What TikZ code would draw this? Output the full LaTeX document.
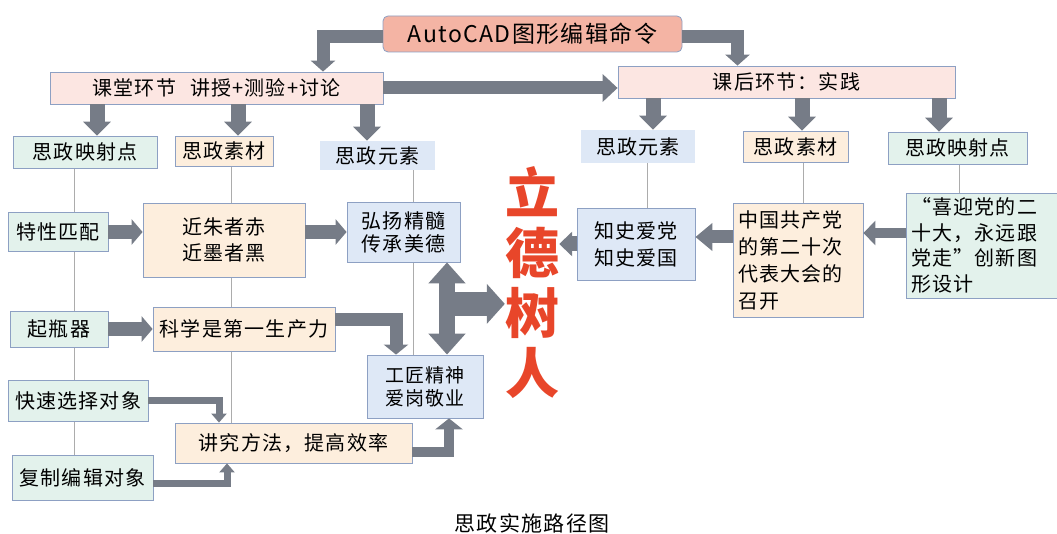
\documentclass[tikz,border=0pt]{standalone}
\usepackage{fontspec}
\setmainfont{Noto Sans CJK SC}[LetterSpace=6]
\usepackage{tikz}
\usetikzlibrary{arrows.meta}
\usetikzlibrary{backgrounds}

\definecolor{cadfill}{RGB}{244,180,164}
\definecolor{hdrfill}{RGB}{252,230,226}
\definecolor{mapfill}{RGB}{227,242,236}
\definecolor{matfill}{RGB}{253,238,221}
\definecolor{elefill}{RGB}{222,232,246}
\definecolor{boxline}{RGB}{141,160,195}
\definecolor{agrey}{RGB}{118,124,135}
\definecolor{ldred}{RGB}{232,70,42}

\tikzset{
	box/.style={draw=boxline,line width=0.8pt,inner sep=3pt,align=center,font=\fontsize{20}{26}\selectfont},
	hdr/.style={box,fill=hdrfill},
	mapbox/.style={box,fill=mapfill},
	matbox/.style={box,fill=matfill},
	elebox/.style={box,fill=elefill},
	blk/.style n args={3}{draw=agrey,line width=#1,line join=miter,-{Triangle[width=#2,length=#3]}},
	vline/.style={draw=gray!65,line width=0.7pt}
}

\begin{document}
\begin{tikzpicture}[x=1pt,y=-1pt]
		\useasboundingbox (0,0) rectangle (1057,534);
		\node[box,fill=cadfill,rounded corners=5pt,minimum width=299pt,minimum height=36pt,font=\fontsize{23}{28}\selectfont] (cad) at (532.5,34) {AutoCAD图形编辑命令};
		\node[hdr,minimum width=333pt,minimum height=32pt] (ktang) at (216.5,88) {课堂环节\hspace{14pt}讲授+测验+讨论};
		\node[hdr,minimum width=337pt,minimum height=32pt] (khou) at (786.5,82) {课后环节：实践};
		\node[mapbox,minimum width=144pt,minimum height=32pt] (lmap) at (85,152) {思政映射点};
		\node[matbox,minimum width=98pt,minimum height=30pt] (lmat) at (224,151) {思政素材};
		\node[elebox,draw=none,minimum width=115pt,minimum height=29pt] (lele) at (377.5,155.5) {思政元素};
		\node[elebox,draw=none,minimum width=114pt,minimum height=33pt] (rele) at (638,146.5) {思政元素};
		\node[matbox,minimum width=105pt,minimum height=31pt] (rmat) at (795.5,146.5) {思政素材};
		\node[mapbox,minimum width=139pt,minimum height=32pt] (rmap) at (957.5,148) {思政映射点};
		\node[mapbox,minimum width=100pt,minimum height=39pt] (texing) at (58,232) {特性匹配};
		\node[matbox,minimum width=162pt,minimum height=74pt] (jinzhu) at (224,240) {近朱者赤\\近墨者黑};
		\node[elebox,minimum width=113pt,minimum height=60pt,font=\fontsize{20}{23}\selectfont] (hongyang) at (403.5,232) {弘扬精髓\\传承美德};
		\node[mapbox,minimum width=98pt,minimum height=36pt] (qiping) at (59,329) {起瓶器};
		\node[matbox,minimum width=182pt,minimum height=44pt] (kexue) at (244,329) {科学是第一生产力};
		\node[elebox,minimum width=116pt,minimum height=63pt,font=\fontsize{19}{23}\selectfont] (gongjiang) at (425,386.5) {工匠精神\\爱岗敬业};
		\node[mapbox,minimum width=140pt,minimum height=41pt] (kuaisu) at (78,400.5) {快速选择对象};
		\node[matbox,minimum width=237pt,minimum height=40pt] (jiangjiu) at (293.5,443) {讲究方法，提高效率};
		\node[mapbox,minimum width=141pt,minimum height=45pt] (fuzhi) at (82.5,477.5) {复制编辑对象};
		\node[elebox,minimum width=118pt,minimum height=72pt,font=\fontsize{20}{27}\selectfont] (zhishi) at (636,244) {知史爱党\\知史爱国};
		\node[matbox,align=left,text width=120pt,inner xsep=5pt,minimum height=114pt,font=\fontsize{20}{27}\selectfont] (zhonggong) at (798,260) {中国共产党\\的第二十次\\代表大会的\\召开};
		\node[mapbox,align=left,text width=160pt,inner xsep=5pt,minimum height=105pt,font=\fontsize{20}{25.5}\selectfont] (xiying) at (991,245.5) {“喜迎党的二\\十大，永远跟\\党走”创新图\\形设计};
		\node[text=ldred,align=center,inner sep=0pt,font=\bfseries\fontsize{54}{60}\selectfont] (lide) at (532,283) {立\\德\\树\\人};
		\node[font=\fontsize{21}{24}\selectfont] (title) at (532,523) {思政实施路径图};
		\begin{scope}[on background layer]
			\draw[vline] ([xshift=-11pt]lmap.south) -- ++(0,287);
			\draw[vline] ([xshift=7pt]lmat.south) -- ++(0,257);
			\draw[vline] ([xshift=35.5pt]lele.south) -- ++(0,185);
			\draw[vline] ([xshift=9pt]rele.south) -- ++(0,45);
			\draw[vline] ([xshift=7.5pt]rmat.south) -- ++(0,41);
			\draw[vline] ([xshift=1.5pt]rmap.south) -- ++(0,29);
		\end{scope}
		\draw[blk={13pt}{24pt}{11pt}] ([yshift=-3pt]cad.west) -| ([xshift=106.5pt]ktang.north);
		\draw[blk={13pt}{24pt}{11pt}] ([yshift=-3pt]cad.east) -| ([xshift=-49pt]khou.north);
		\draw[blk={13pt}{27pt}{15pt}] (ktang.east) -- (ktang.east -| khou.west);
		\draw[blk={15pt}{27pt}{14pt}] ([xshift=-119.5pt]ktang.south) -- ([xshift=12pt]lmap.north);
		\draw[blk={15pt}{27pt}{14pt}] ([xshift=21.5pt]ktang.south) -- ([xshift=14pt]lmat.north);
		\draw[blk={15pt}{27pt}{14pt}] ([xshift=150.5pt]ktang.south) -- ([xshift=-10.5pt]lele.north);
		\draw[blk={15pt}{27pt}{14pt}] ([xshift=-133.5pt]khou.south) -- ([xshift=15pt]rele.north);
		\draw[blk={15pt}{27pt}{14pt}] ([xshift=15.5pt]khou.south) -- ([xshift=6.5pt]rmat.north);
		\draw[blk={15pt}{27pt}{14pt}] ([xshift=152.5pt]khou.south) -- ([xshift=-18.5pt]rmap.north);
		\draw[blk={14pt}{25pt}{11pt}] (texing.east) -- (texing.east -| jinzhu.west);
		\draw[blk={14pt}{25pt}{11pt}] (hongyang.west -| jinzhu.east) -- (hongyang.west);
		\draw[blk={14pt}{25pt}{11pt}] (qiping.east) -- (qiping.east -| kexue.west);
		\draw[blk={13pt}{24pt}{10pt}] ([yshift=9pt]kexue.east) -| ([xshift=-29pt]gongjiang.north);
		\draw[blk={16pt}{36pt}{21pt},{Triangle[width=36pt,length=21pt]}-{Triangle[width=36pt,length=21pt]}] ([xshift=43.5pt]hongyang.south) -- ([xshift=22pt]gongjiang.north) coordinate[pos=0.45] (hub);
		\draw[blk={24pt}{39pt}{18pt}] (hub) -- (hub -| lide.west);
		\draw[blk={7pt}{15pt}{9pt}] (kuaisu.east) -| ([xshift=-74.5pt]jiangjiu.north);
		\draw[blk={7pt}{15pt}{9pt}] ([yshift=-5.5pt]fuzhi.east) -| ([xshift=-66.5pt]jiangjiu.south);
		\draw[blk={10pt}{27pt}{11pt}] ([yshift=-9pt]jiangjiu.east) -| ([xshift=24pt]gongjiang.south);
		\draw[blk={15pt}{24pt}{13pt}] (zhishi.west) -- (zhishi.west -| lide.east);
		\draw[blk={13pt}{27pt}{17pt}] ([yshift=23pt]zhonggong.west) -- ([yshift=7pt]zhishi.east);
		\draw[blk={10pt}{24pt}{12pt}] ([yshift=12.5pt]xiying.west) -- ([yshift=27pt]zhonggong.east);
	\end{tikzpicture}
\end{document}
